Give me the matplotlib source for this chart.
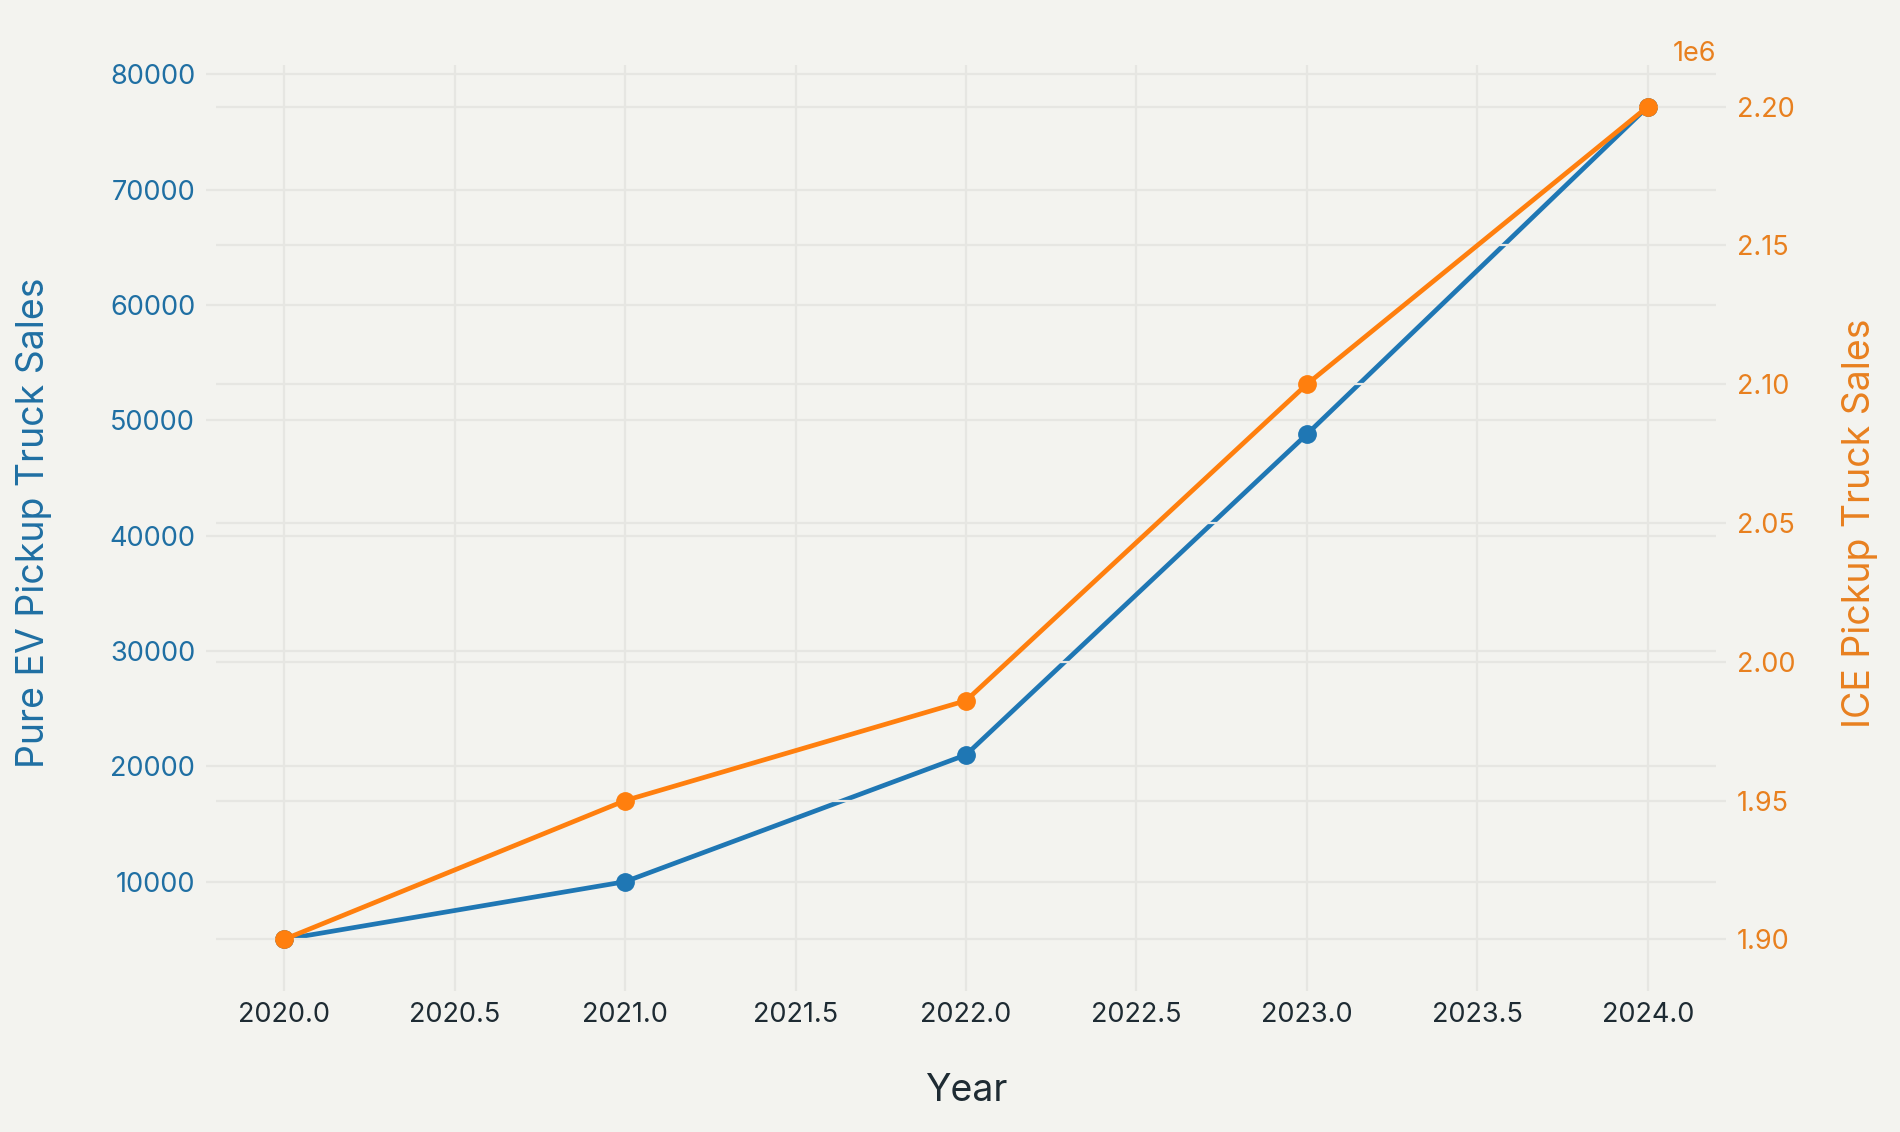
import matplotlib
matplotlib.use("Agg")
import matplotlib.pyplot as plt

years = [2020, 2021, 2022, 2023, 2024]
ev_sales = [5000, 10000, 21000, 48800, 77200]
ice_sales = [1900000, 1950000, 1986000, 2100000, 2200000]

x_label = "Year"
ev_label = "Pure EV Pickup Truck Sales"
ice_label = "ICE Pickup Truck Sales"

BLUE = "#1f77b4"
ORANGE = "#ff7f0e"
BLUE_TXT = "#1f6fa3"
ORANGE_TXT = "#e8801f"
BG = "#f3f3ef"
GRID = "#e6e6e2"
DARK = "#1e2b33"

plt.rcParams['font.family'] = ['Inter', 'DejaVu Sans']

fig = plt.figure(figsize=(19, 11.32), dpi=100, facecolor=BG)
ax1 = fig.add_axes([216/1900, 1-981/1132, 1500/1900, 916/1132])
ax1.set_facecolor(BG)
ax2 = ax1.twinx()

ax1.plot(years, ev_sales, color=BLUE, lw=3.4, marker='o', ms=12.5, zorder=3)
ax2.plot(years, ice_sales, color=ORANGE, lw=3.4, marker='o', ms=12.5, zorder=3)

for ax in (ax1, ax2):
    for s in ax.spines.values():
        s.set_visible(False)

ax1.grid(True, color=GRID, lw=1.6, zorder=0)
ax1.set_axisbelow(True)
ax2.grid(True, axis='y', color=GRID, lw=1.6)
ax2.grid(False, axis='x')

ax1.tick_params(axis='y', colors=GRID, labelcolor=BLUE_TXT, labelsize=19.5, length=7, width=1.6, pad=8)
ax1.tick_params(axis='x', colors=GRID, labelcolor=DARK, labelsize=19.5, length=7, width=1.6, pad=8)
ax2.tick_params(axis='y', colors=GRID, labelcolor=ORANGE_TXT, labelsize=19.5, length=7, width=1.6, pad=8)
ax2.yaxis.get_offset_text().set_color(ORANGE_TXT)
ax2.yaxis.get_offset_text().set_fontsize(19.5)

ax1.set_xlabel(x_label, fontsize=27, color=DARK)
ax1.xaxis.set_label_coords(0.5, -0.12)
ax1.xaxis.label.set_va('center')

ax1.set_ylabel(ev_label, fontsize=27, color=BLUE_TXT, va='center')
ax1.yaxis.set_label_coords(-0.121, 0.5)
ax2.set_ylabel(ice_label, fontsize=27, color=ORANGE_TXT, va='center')
ax2.yaxis.set_label_coords(1.096, 0.5)

fig.savefig("out.png", dpi=100, facecolor=BG)
